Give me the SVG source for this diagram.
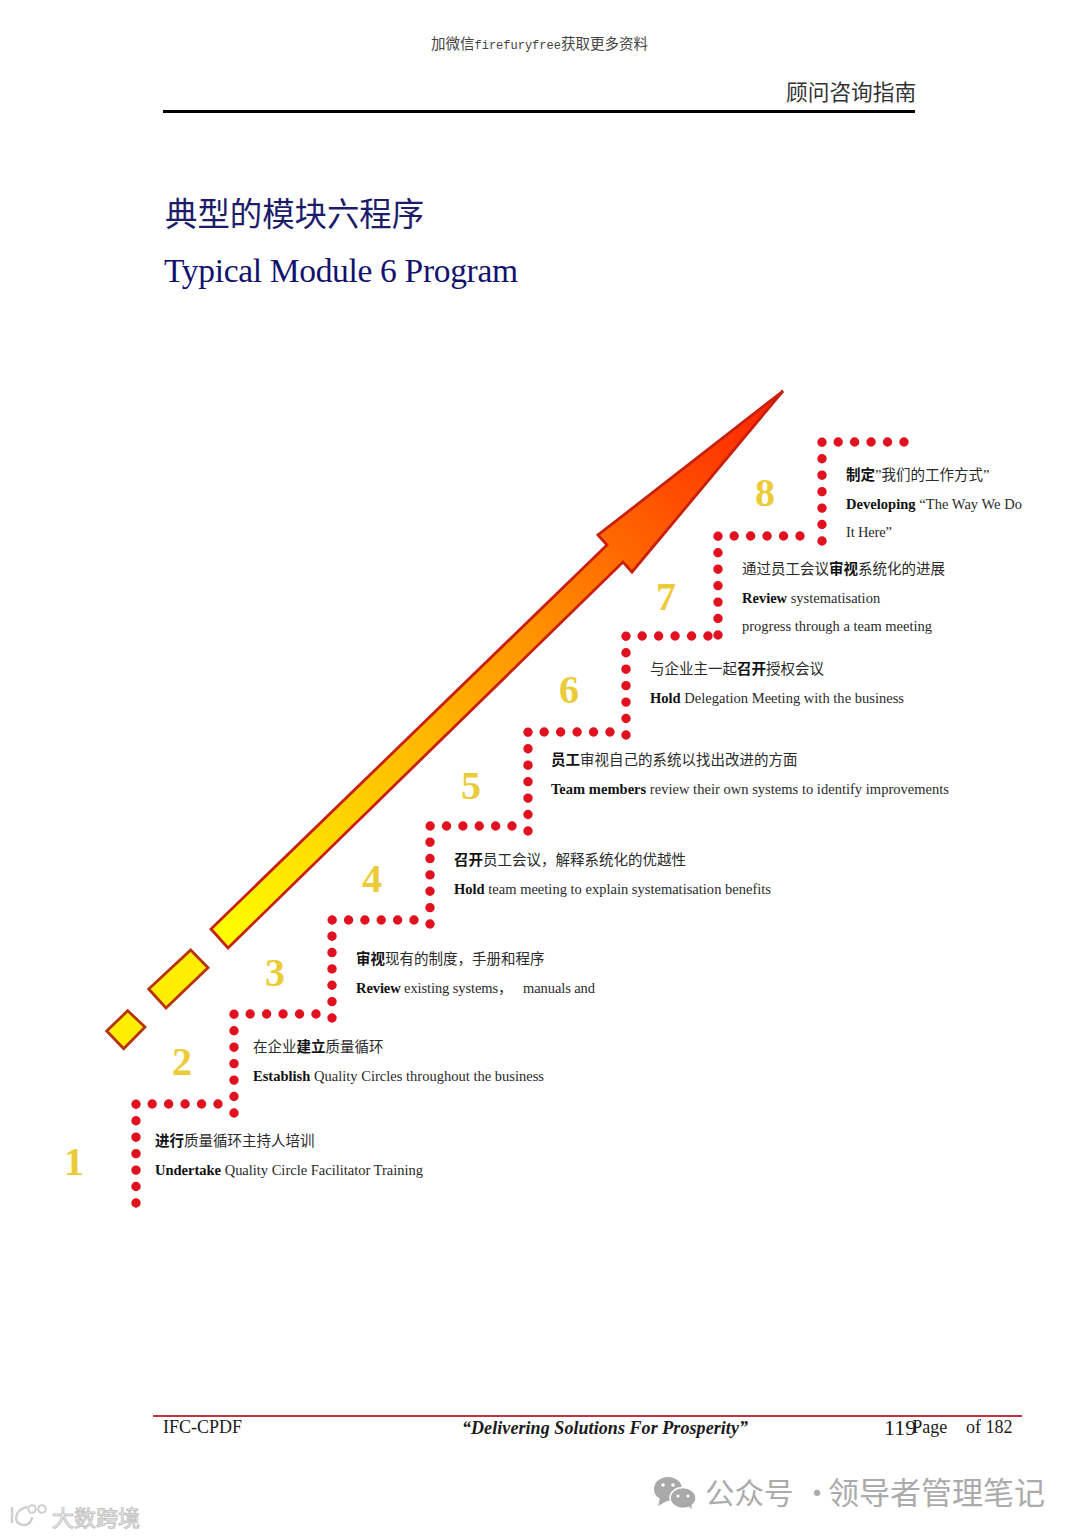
<svg xmlns="http://www.w3.org/2000/svg" width="1080" height="1537" viewBox="0 0 1080 1537">
<style>
text{font-family:"Liberation Serif","Noto Sans CJK SC",serif;fill:#2a2a2a}
.t{font-size:14.5px}
.t .b,.b{font-weight:700;fill:#111}
.n{font-size:40px;font-weight:700;fill:#eccb38;text-anchor:middle}
.d{fill:none;stroke:#e2111f;stroke-width:9.4;stroke-linecap:round;stroke-dasharray:0 0.9999}
.p{stroke:#b8320c;stroke-width:2.8;stroke-linejoin:miter}
.f{font-size:18px;fill:#1a1a1a}
.wm{font-family:"Noto Sans CJK SC","Noto Sans",sans-serif;fill:#ababab}
</style>
<defs>
<linearGradient id="ag" gradientUnits="userSpaceOnUse" x1="220" y1="940" x2="783" y2="391">
<stop offset="0" stop-color="#ffff00"/>
<stop offset="0.3" stop-color="#ffc400"/>
<stop offset="0.55" stop-color="#ff9400"/>
<stop offset="0.8" stop-color="#ff5000"/>
<stop offset="1" stop-color="#ff2000"/>
</linearGradient>
</defs>
<rect width="1080" height="1537" fill="#fff"/>
<g id="header">
<text x="431" y="49" font-size="14.5" style="fill:#444">加微信<tspan font-family="Liberation Mono" font-size="12">firefuryfree</tspan>获取更多资料</text>
<text x="786" y="100" font-size="21.7" style="fill:#333">顾问咨询指南</text>
<line x1="163" y1="111.500" x2="915" y2="111.500" stroke="#000" stroke-width="3"/>
<text x="165" y="226" font-size="32.400" style="fill:#1c1c6a">典型的模块六程序</text>
<text x="164" y="282" font-size="33.500" textLength="354" style="fill:#12126e">Typical Module 6 Program</text>
</g>
<g id="arrow">
<path class="p" fill="#ffee00" d="M127.700 1010.700L145 1027L123.700 1048.700L106.700 1031Z"/>
<path class="p" fill="#ffee00" d="M190.700 950L208 967.700L166 1008L148.700 989Z"/>
<path fill="url(#ag)" stroke="#c8200c" stroke-width="2.800" d="M783 391L632 572L623 562L228 948L211 929L607 545L598 535Z"/>
</g>
<g id="connectors">
<path class="d" pathLength="11" d="M136 1203V1104H218"/>
<path class="d" pathLength="11" d="M234 1113V1014H316"/>
<path class="d" pathLength="11" d="M332 1018V920H414"/>
<path class="d" pathLength="11" d="M430 924V826H512"/>
<path class="d" pathLength="11" d="M528 831V732H610"/>
<path class="d" pathLength="11" d="M626 735V636H708"/>
<path class="d" pathLength="11" d="M718 635V536H800"/>
<path class="d" pathLength="11" d="M822 541V442H904"/>
</g>
<g id="step-1">
<text class="n" x="74" y="1175">1</text>
<text class="t" x="155" y="1146"><tspan class="b">进行</tspan>质量循环主持人培训</text>
<text class="t" x="155" y="1175" textLength="268"><tspan class="b">Undertake</tspan> Quality Circle Facilitator Training</text>
</g>
<g id="step-2">
<text class="n" x="182" y="1075">2</text>
<text class="t" x="253" y="1052">在企业<tspan class="b">建立</tspan>质量循环</text>
<text class="t" x="253" y="1081" textLength="291"><tspan class="b">Establish</tspan> Quality Circles throughout the business</text>
</g>
<g id="step-3">
<text class="n" x="275" y="986">3</text>
<text class="t" x="356" y="964"><tspan class="b">审视</tspan>现有的制度，手册和程序</text>
<text class="t" x="356" y="993" xml:space="preserve" textLength="239"><tspan class="b">Review</tspan> existing systems，   manuals and</text>
</g>
<g id="step-4">
<text class="n" x="372" y="892">4</text>
<text class="t" x="454" y="865"><tspan class="b">召开</tspan>员工会议，解释系统化的优越性</text>
<text class="t" x="454" y="894" textLength="317"><tspan class="b">Hold</tspan> team meeting to explain systematisation benefits</text>
</g>
<g id="step-5">
<text class="n" x="471" y="799">5</text>
<text class="t" x="551" y="765"><tspan class="b">员工</tspan>审视自己的系统以找出改进的方面</text>
<text class="t" x="551" y="794" textLength="398"><tspan class="b">Team members</tspan> review their own systems to identify improvements</text>
</g>
<g id="step-6">
<text class="n" x="569" y="703">6</text>
<text class="t" x="650" y="674">与企业主一起<tspan class="b">召开</tspan>授权会议</text>
<text class="t" x="650" y="703" textLength="254"><tspan class="b">Hold</tspan> Delegation Meeting with the business</text>
</g>
<g id="step-7">
<text class="n" x="666" y="610">7</text>
<text class="t" x="742" y="574">通过员工会议<tspan class="b">审视</tspan>系统化的进展</text>
<text class="t" x="742" y="603"><tspan class="b">Review</tspan> systematisation</text>
<text class="t" x="742" y="631" textLength="190">progress through a team meeting</text>
</g>
<g id="step-8">
<text class="n" x="765" y="506">8</text>
<text class="t" x="846" y="480"><tspan class="b">制定</tspan>”我们的工作方式”</text>
<text class="t" x="846" y="509" textLength="176"><tspan class="b">Developing</tspan> “The Way We Do</text>
<text class="t" x="846" y="537" textLength="46">It Here”</text>
</g>
<g id="footer">
<line x1="153" y1="1416" x2="1022" y2="1416" stroke="#c23341" stroke-width="2"/>
<text class="f" x="163" y="1433">IFC-CPDF</text>
<text class="f" x="462" y="1434" font-weight="700" font-style="italic" textLength="286">“Delivering Solutions For Prosperity”</text>
<text class="f" x="884" y="1435"><tspan style="font-size:22px">119</tspan><tspan dx="-4" dy="-2">Page</tspan></text>
<text class="f" x="966" y="1433">of 182</text>
</g>
<g id="watermark-wechat">
<ellipse cx="668" cy="1489" rx="14" ry="12" fill="#a9a9a9"/>
<path d="M660 1498L658 1506L667 1501Z" fill="#a9a9a9"/>
<ellipse cx="683" cy="1498" rx="13" ry="10.500" fill="#a9a9a9" stroke="#fff" stroke-width="1.500"/>
<path d="M688 1506L692 1509L691 1503Z" fill="#a9a9a9"/>
<circle cx="663" cy="1485" r="1.800" fill="#fff"/><circle cx="673" cy="1485" r="1.800" fill="#fff"/>
<circle cx="678" cy="1496" r="1.500" fill="#fff"/><circle cx="688" cy="1496" r="1.500" fill="#fff"/>
<text class="wm" x="705" y="1504" font-size="29.500" style="fill:#ababab">公众号<tspan x="802" font-size="30">·</tspan><tspan x="828" font-size="31">领导者管理笔记</tspan></text>
</g>
<g id="watermark-logo">
<path d="M12 1507V1523M27 1507C13 1510 13 1525 24 1525C29 1525 32 1521 32 1517" fill="none" stroke="#cfcfcf" stroke-width="2.500"/>
<circle cx="32" cy="1509" r="3.800" fill="none" stroke="#cfcfcf" stroke-width="2"/>
<circle cx="42" cy="1509" r="3.800" fill="none" stroke="#cfcfcf" stroke-width="2"/>
<text x="52" y="1526" font-size="22" style="font-family:'Noto Sans CJK SC',sans-serif;fill:#fff;stroke:#c4c4c4;stroke-width:1">大数跨境</text>
</g>
</svg>
